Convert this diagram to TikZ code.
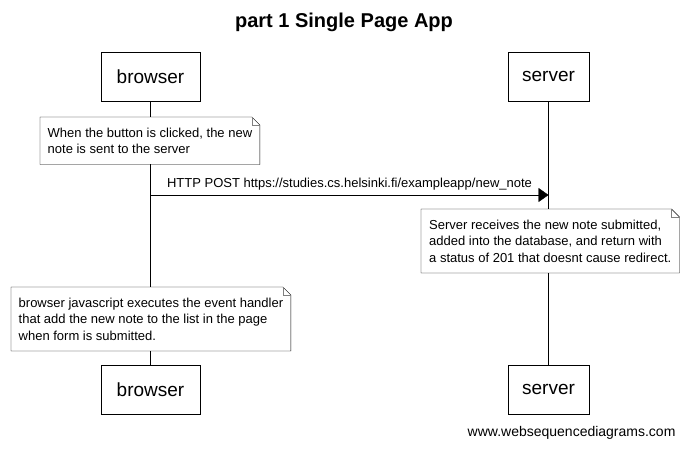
\documentclass[tikz,border=0pt]{standalone}
\usepackage{fontspec}
\setmainfont{Liberation Sans}
\usetikzlibrary{arrows.meta}

\newcommand{\noteframe}[1]{%
    \draw (#1.north west) -- ([xshift=-8pt]#1.north east) -- ([yshift=-8pt]#1.north east)
        -- (#1.south east) -- (#1.south west) -- cycle;
    \draw[gray] ([xshift=-8pt]#1.north east) |- ([yshift=-8pt]#1.north east);
}

\begin{document}
\begin{tikzpicture}[x=1pt, y=-1pt,
    actor/.style={draw, fill=white, minimum height=49pt, inner sep=0pt, font=\fontsize{19}{22}\selectfont},
    note/.style={fill=white, anchor=north west, align=left, inner xsep=7.5pt, inner ysep=10.5pt, font=\fontsize{13}{16.5}\selectfont},
    msg/.style={-{Triangle[length=10pt,width=14pt]}}]
    % \draw[help lines] (0,0) grid[step=50] (688,448);
    \useasboundingbox (0,0) rectangle (688,448);

    \node[font=\bfseries\fontsize{20}{24}\selectfont] (title) at (344,22) {part 1 Single Page App};

    \node[actor, minimum width=99pt] (btop) at (150.5,76.5) {browser};
    \node[actor, minimum width=81pt] (stop) at (548.5,76.5) {server};
    \node[actor, minimum width=99pt] (bbot) at (150.5,389.5) {browser};
    \node[actor, minimum width=81pt] (sbot) at (548.5,389.5) {server};

    % lifelines
    \draw (btop) -- (bbot);
    \draw (stop) -- (sbot);

    \node[note] (clicked) at (40,117) {When the button is clicked, the new\\note is sent to the server};
    \noteframe{clicked}

    \coordinate (postlvl) at (0,195);
    \coordinate (pstart) at (btop.south |- postlvl);
    \coordinate (pend) at (stop.south |- postlvl);
    \draw[msg] (pstart) -- node[above=1pt, font=\fontsize{13}{16}\selectfont] (post)
        {HTTP POST https://studies.cs.helsinki.fi/exampleapp/new\_note} (pend);

    \node[note, inner xsep=8pt] (receives) at (421,209) {Server receives the new note submitted,\\added into the database, and return with\\a status of 201 that doesnt cause redirect.};
    \noteframe{receives}

    \node[note] (handler) at (11,287) {browser javascript executes the event handler\\that add the new note to the list in the page\\when form is submitted.};
    \noteframe{handler}

    \node[anchor=east, font=\fontsize{14}{16}\selectfont] (wsd) at (679,433) {www.websequencediagrams.com};
\end{tikzpicture}
\end{document}
